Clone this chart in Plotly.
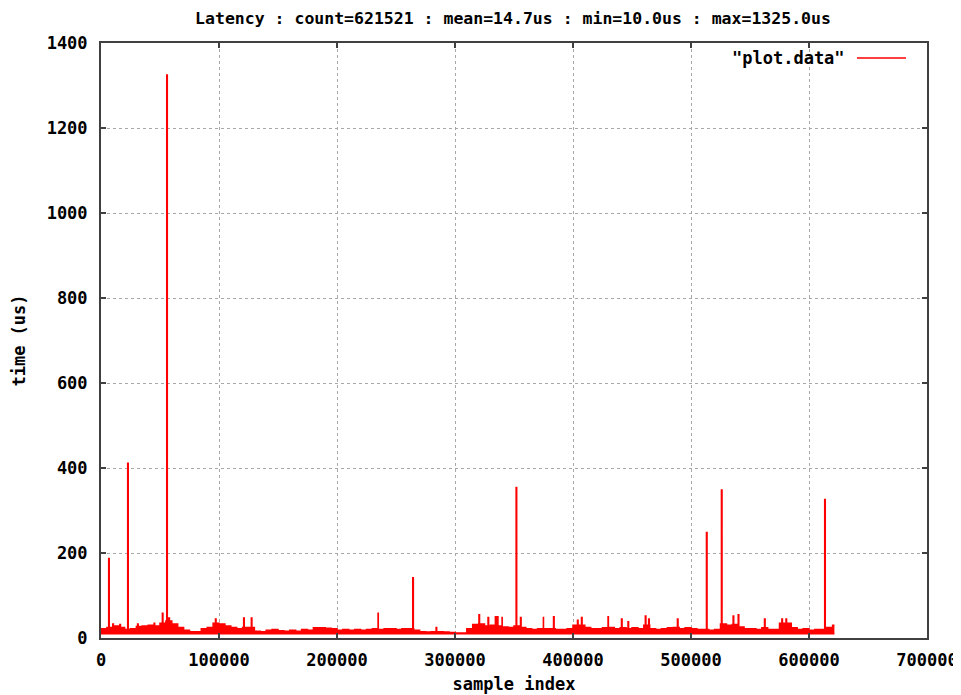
import plotly.graph_objects as go

title_text = "Latency : count=621521 : mean=14.7us : min=10.0us : max=1325.0us"
sample_count = 621521
min_latency = 10.0
bin_size = 5000

# upper edge of the dense latency band, one value per 5000-sample bin (us)
band_top = [
    22, 25, 28, 25, 20, 22, 27, 28, 30, 28,
    35, 40, 33, 25, 18, 15, 15, 22, 25, 35,
    33, 28, 25, 22, 25, 25, 16, 15, 18, 20,
    17, 16, 18, 16, 20, 18, 24, 24, 23, 22,
    18, 20, 18, 20, 18, 20, 22, 20, 22, 22,
    20, 22, 22, 18, 15, 14, 15, 15, 14, 13,
    12, 12, 22, 32, 33, 28, 30, 28, 26, 25,
    28, 25, 22, 20, 22, 22, 22, 20, 20, 22,
    30, 30, 25, 22, 22, 24, 25, 22, 24, 22,
    24, 22, 30, 22, 20, 22, 24, 25, 22, 24,
    22, 20, 20, 18, 20, 33, 30, 32, 26, 22,
    22, 20, 24, 20, 20, 35, 35, 24, 20, 22,
    18, 20, 20, 25, 30,
]

# isolated latency spikes: sample index and value (us)
spike_idx = [6500, 10000, 16000, 22600, 31000, 45000, 52000, 55700, 57500,
             97000, 120900, 127400, 234800, 264200, 284000, 320300, 328000,
             334200, 335900, 339900, 351800, 355500, 374900, 383500, 403800,
             407200, 429700, 441100, 446600, 461300, 464100, 488500, 513100,
             525800, 535700, 540000, 562300, 577000, 580500, 613300]
spike_val = [187, 33, 32, 411, 33, 35, 58, 1325, 47,
             45, 47, 47, 58, 142, 25, 55, 48,
             50, 50, 48, 354, 48, 48, 50, 42,
             48, 50, 45, 38, 52, 45, 45, 248,
             348, 52, 55, 45, 45, 45, 326]

x_ticks = [0, 100000, 200000, 300000, 400000, 500000, 600000, 700000]
y_ticks = [0, 200, 400, 600, 800, 1000, 1200, 1400]

spike_w = 500
bin_x = [i * bin_size for i in range(len(band_top))]
pts = list(zip(bin_x, band_top))
for s, v in zip(spike_idx, spike_val):
    k = min((s + spike_w) // bin_size, len(band_top) - 1)
    pts.append((s, v))
    pts.append((s + spike_w, band_top[k]))
pts.append((sample_count, band_top[-1]))
pts.sort(key=lambda p: p[0])
px = [p[0] for p in pts]
py = [p[1] for p in pts]

RED = "#ff0000"
FONT = "DejaVu Sans Mono"
FS = 17

fig = go.Figure()
fig.add_trace(go.Scatter(
    x=[0, sample_count], y=[min_latency, min_latency], mode="lines",
    line=dict(color=RED, width=1.5), showlegend=False, hoverinfo="skip"))
fig.add_trace(go.Scatter(
    x=px, y=py, mode="lines", line=dict(color=RED, width=1.5, shape="hv"),
    fill="tonexty", fillcolor=RED, name='"plot.data"', showlegend=False))

axis_common = dict(
    showline=True, linewidth=2, linecolor="#404040", mirror="ticks",
    ticks="inside", ticklen=5, tickwidth=1.5, tickcolor="#404040",
    showgrid=True, gridcolor="#a8a8a8", griddash="dot", gridwidth=1,
    zeroline=False, automargin=False,
    tickfont=dict(family=FONT, size=FS, color="black", weight="bold"),
)

fig.update_layout(
    width=961, height=695,
    paper_bgcolor="white", plot_bgcolor="white",
    margin=dict(l=93, r=42, t=35, b=65, pad=0, autoexpand=False),
    title=dict(text=title_text, x=505 / 961, xanchor="center",
               y=1 - 10 / 695, yanchor="middle", yref="container",
               automargin=False,
               font=dict(family=FONT, size=16.5, color="black", weight="bold")),
    xaxis=dict(range=[0, 700000], tickvals=x_ticks,
               ticktext=[str(v) for v in x_ticks],
               title=dict(text="sample index", standoff=9,
                          font=dict(family=FONT, size=FS, color="black", weight="bold")),
               ticklabelstandoff=6, **axis_common),
    yaxis=dict(range=[0, 1400], tickvals=y_ticks,
               ticktext=[str(v) for v in y_ticks],
               title=dict(text="time (us)", standoff=17,
                          font=dict(family=FONT, size=FS, color="black", weight="bold")),
               ticklabelstandoff=8, **axis_common),
    showlegend=False,
)

# gnuplot-style key: label left of the line sample
fig.add_annotation(text='"plot.data"', xref="paper", yref="paper",
                   x=(847 - 101) / 826, y=(638 - 58) / 595,
                   xanchor="right", yanchor="middle", showarrow=False,
                   font=dict(family=FONT, size=FS, color="black", weight="bold"))
fig.add_shape(type="line", xref="paper", yref="paper",
              x0=(857 - 101) / 826, x1=(906 - 101) / 826,
              y0=(638 - 58) / 595, y1=(638 - 58) / 595,
              line=dict(color=RED, width=1.5))

fig.write_html("out.html")
